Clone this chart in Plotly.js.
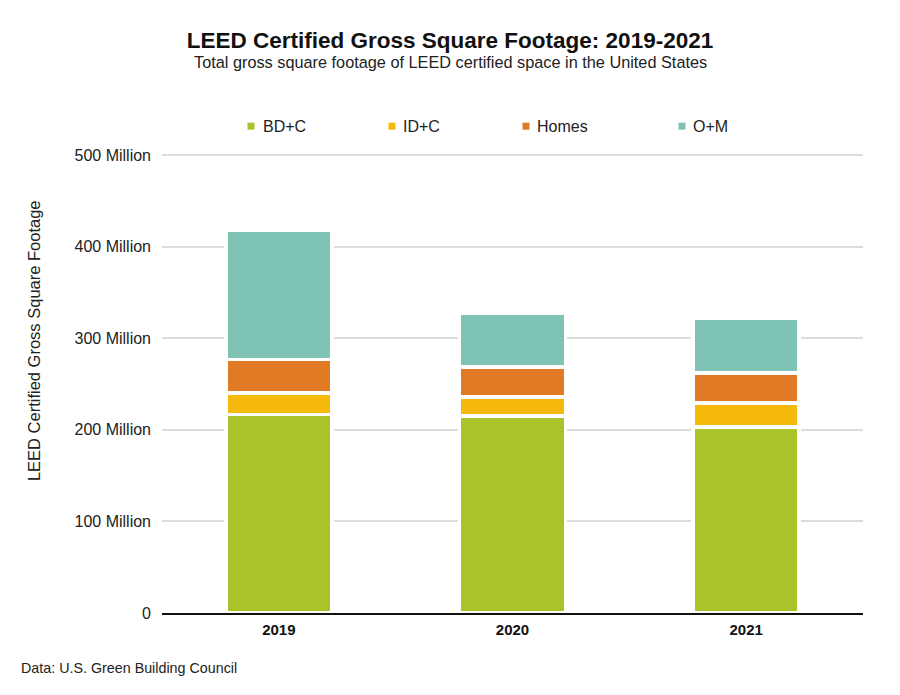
<!DOCTYPE html>
<html>
<head>
<meta charset="utf-8">
<script src="https://cdn.plot.ly/plotly-3.0.1.min.js"></script>
<style>html,body{margin:0;padding:0;background:#fff;}#chart{width:900px;height:695px;}</style>
</head>
<body>
<div id="chart"></div>
<script>
const years = ["2019", "2020", "2021"];
const seriesNames = ["BD+C", "ID+C", "Homes", "O+M"];
const bdc = [216.8e6, 215.2e6, 203.1e6];
const idc = [23.2e6, 20.6e6, 26.1e6];
const homes = [37.0e6, 33.0e6, 32.7e6];
const om = [141.2e6, 58.9e6, 60.0e6];
const colors = ["#abc32b", "#f5b90c", "#e07a24", "#7fc3b4"];
const tickVals = [0, 100e6, 200e6, 300e6, 400e6, 500e6];
const tickText = ["0", "100 Million", "200 Million", "300 Million", "400 Million", "500 Million"];

const F = "Liberation Sans, Arial, sans-serif";
const yMax = 510e6;
const L = 162, R = 863, B = 613;
const pxPerUnit = 458 / 500e6;
const T = B - yMax * pxPerUnit;
const px2x = p => (p - L) / (R - L);
const px2y = p => (B - p) / (B - T);

const values = [bdc, idc, homes, om];
const traces = seriesNames.map((n, i) => ({
  type: "bar",
  name: n,
  x: years,
  y: values[i],
  marker: {color: colors[i], line: {color: "#ffffff", width: 3.5}},
  showlegend: false,
  hoverinfo: "x+y+name"
}));

// legend drawn as small squares + labels
const legendMarkX = [251, 392, 526, 682];
const legendTextX = [264, 404, 538, 694];
const legendY = 126;
const shapes = seriesNames.map((n, i) => ({
  type: "rect", xref: "paper", yref: "paper",
  x0: px2x(legendMarkX[i] - 3.5), x1: px2x(legendMarkX[i] + 3.5),
  y0: px2y(legendY + 3.5), y1: px2y(legendY - 3.5),
  fillcolor: colors[i], line: {width: 0}
}));
const legendAnn = seriesNames.map((n, i) => ({
  text: n, xref: "paper", yref: "paper",
  x: px2x(legendTextX[i] - 3), y: px2y(legendY),
  xanchor: "left", yanchor: "middle", showarrow: false,
  font: {family: F, size: 16, color: "#222"}
}));

const layout = {
  width: 900, height: 695,
  margin: {l: L, r: 900 - R, t: T, b: 695 - B},
  paper_bgcolor: "#fff", plot_bgcolor: "#fff",
  barmode: "stack",
  bargap: 0.547,
  showlegend: false,
  font: {family: F, color: "#222"},
  title: {
    text: "LEED Certified Gross Square Footage: 2019-2021",
    font: {family: F, size: 22.5, color: "#111", weight: "bold"},
    x: 0.5, xanchor: "center", xref: "container",
    y: 1 - 40/695, yanchor: "middle", yref: "container"
  },
  xaxis: {
    type: "category",
    showgrid: false,
    showline: true, linecolor: "#111", linewidth: 1.5,
    ticks: "", tickfont: {family: F, size: 15, color: "#111", weight: "bold"},
    ticklabelstandoff: 2
  },
  yaxis: {
    range: [0, yMax],
    tickvals: tickVals, ticktext: tickText,
    tickfont: {family: F, size: 16, color: "#222"},
    showgrid: true, gridcolor: "#dcdcdc", gridwidth: 2,
    zeroline: false, showline: false, ticks: "",
    ticklabelstandoff: 10
  },
  shapes: shapes,
  annotations: legendAnn.concat([
    {text: "Total gross square footage of LEED certified space in the United States",
     xref: "paper", yref: "paper", x: px2x(450), y: px2y(62),
     xanchor: "center", yanchor: "middle", showarrow: false,
     font: {family: F, size: 16.3, color: "#222"}},
    {text: "LEED Certified Gross Square Footage",
     xref: "paper", yref: "paper", x: px2x(34), y: px2y(341),
     xanchor: "center", yanchor: "middle", showarrow: false, textangle: -90,
     font: {family: F, size: 16.5, color: "#222"}},
    {text: "Data: U.S. Green Building Council",
     xref: "paper", yref: "paper", x: px2x(19), y: px2y(668),
     xanchor: "left", yanchor: "middle", showarrow: false,
     font: {family: F, size: 14.3, color: "#222"}}
  ])
};

Plotly.newPlot("chart", traces, layout, {displayModeBar: false, staticPlot: true});
</script>
</body>
</html>
